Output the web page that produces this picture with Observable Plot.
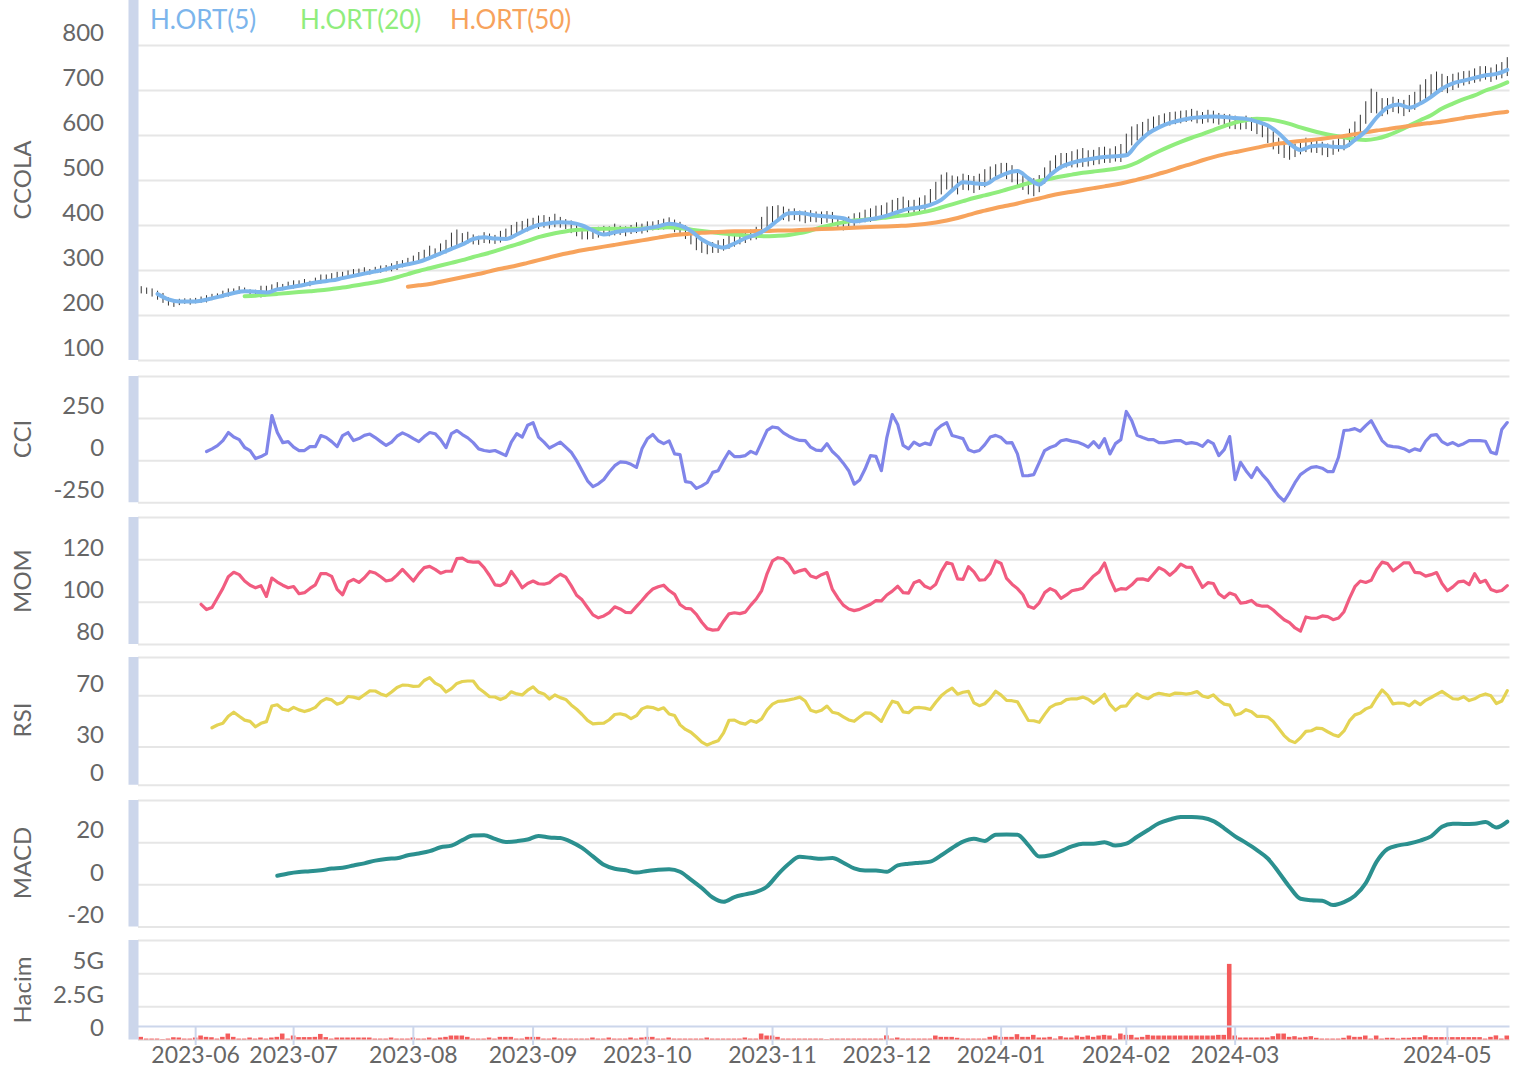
<!DOCTYPE html>
<html>
<head>
<meta charset="utf-8">
<script src="https://cdn.jsdelivr.net/npm/d3@7"></script>
<script src="https://cdn.jsdelivr.net/npm/@observablehq/plot@0.6"></script>
<style>
  html, body { margin: 0; padding: 0; background: #ffffff; }
  #chart { position: relative; width: 1514px; height: 1068px; overflow: hidden; background: #fff; font-family: Lato, "Open Sans", sans-serif; }
  #chart svg { position: absolute; left: 0; }
  .ytitle { position: absolute; left: 22px; font-size: 24px; line-height: 24px; color: #666; white-space: nowrap; transform: translate(-50%, -50%) rotate(-90deg); }
  .leg { position: absolute; top: 6px; font-size: 26px; line-height: 26px; white-space: nowrap; }
</style>
</head>
<body>
<div id="chart"></div>
<script>
// ---------------- DATA ----------------
const N = 252; // trading days (category index 0..251)
const xTickIdx = [10, 28, 50, 72, 93, 116, 137, 158, 181, 201, 240];
const xTickLabels = ["2023-06","2023-07","2023-08","2023-09","2023-10","2023-11","2023-12","2024-01","2024-02","2024-03","2024-05"];

const legendNames = ["H.ORT(5)", "H.ORT(20)", "H.ORT(50)"];
const panelTitles = ["CCOLA", "CCI", "MOM", "RSI", "MACD", "Hacim"];

// price bars: daily mid price and high-low span
const priceMid = [
 256,254,250,244,238,230,226,229,231,230,
 232,234,236,240,242,246,250,252,256,255,
 250,248,252,256,260,264,262,266,268,270,
 272,270,276,280,282,286,288,290,292,294,
 296,298,296,300,302,304,306,310,314,318,
 322,328,334,340,338,346,352,364,372,368,
 372,368,366,372,370,368,374,380,386,392,
 396,400,404,406,408,405,410,406,402,396,
 388,380,378,380,384,388,386,390,388,386,
 390,394,392,396,398,400,402,404,398,392,
 384,372,360,352,348,350,352,356,362,366,
 370,374,378,382,398,418,424,428,426,422,
 424,420,418,420,418,416,418,414,404,402,
 406,412,416,420,422,428,430,434,438,440,
 446,440,442,446,450,462,476,490,498,492,
 488,496,494,490,496,504,512,518,522,520,
 514,504,494,486,484,492,510,526,536,542,
 544,546,548,550,548,550,554,556,554,558,
 560,580,598,606,612,620,626,630,634,636,
 638,640,642,644,640,638,642,640,636,632,
 630,628,626,628,624,618,612,600,588,576,
 568,562,566,572,578,576,574,570,566,572,
 578,584,594,608,622,650,676,672,662,664,
 668,664,660,670,676,690,700,710,718,716,
 712,718,722,726,728,732,736,738,734,740,
 744,752];
const priceSpan = [
 16,14,18,20,22,18,16,14,12,14,
 12,14,16,14,12,16,18,14,16,12,
 14,16,26,18,16,18,14,16,18,14,
 16,12,14,20,16,14,16,12,14,16,
 14,16,12,14,16,14,18,20,16,18,
 20,24,22,28,20,26,30,38,36,28,
 26,22,20,24,22,20,26,24,28,30,
 26,28,24,30,28,26,30,24,22,28,
 26,24,20,22,24,20,22,26,20,22,
 20,24,22,24,20,22,24,26,28,30,
 30,30,32,28,26,24,28,26,30,28,
 26,28,24,28,40,46,36,32,30,28,
 26,24,28,26,24,28,26,30,30,28,
 26,28,24,28,30,30,28,32,36,40,
 34,30,28,30,32,36,40,44,38,36,
 40,36,34,38,36,40,36,34,32,36,
 38,34,32,36,40,38,36,34,38,36,
 32,36,40,42,36,34,38,36,32,34,
 40,46,42,36,34,32,30,28,28,30,
 28,28,26,28,28,26,28,28,26,30,
 32,30,28,30,30,32,34,36,40,36,
 38,34,30,30,32,30,28,30,30,32,
 30,36,40,44,46,50,54,48,40,36,
 34,32,36,38,40,44,48,50,46,40,
 38,36,34,32,30,32,34,30,32,34,
 36,42];

// moving averages, sampled every 2nd day (odd indices)
const ma5Start = 3;
const ma5 = [248,236,231,231,233,238,244,250,254,253,
 251,258,262,266,271,275,278,283,288,293,
 298,303,309,314,319,328,338,348,358,370,
 374,371,370,380,392,401,405,407,406,400,
 389,380,385,389,390,394,398,404,400,388,
 369,357,351,360,372,380,393,412,427,428,
 424,421,419,416,409,412,416,422,430,437,
 440,446,457,478,496,494,492,505,516,521,
 505,491,512,530,539,545,549,552,554,556,
 582,604,618,628,634,639,641,642,641,639,
 637,631,622,605,582,568,576,578,575,574,
 590,610,640,662,669,662,671,686,704,716,
 722,728,734,737,746];
const ma20Start = 19;
const ma20 = [243,244,246,248,250,252,254,256,259,262,
 266,270,274,279,285,292,299,305,311,317,
 323,330,336,343,351,358,366,374,380,385,
 389,391,392,393,393,393,393,394,395,396,
 394,391,388,385,382,380,378,377,376,377,
 379,383,389,396,402,407,411,413,415,418,
 421,424,428,433,440,447,454,461,467,473,
 480,487,494,499,504,509,513,517,520,523,
 526,531,540,553,565,576,586,595,603,612,
 621,629,634,637,636,632,626,618,611,605,
 600,596,592,590,593,600,610,622,634,645,
 660,671,681,689,700,708,718];
const ma50Start = 49;
const ma50 = [264,267,270,275,280,285,290,295,301,306,
 311,317,323,329,335,340,345,349,353,357,
 361,365,369,373,377,380,382,384,385,386,
 387,387,388,388,389,389,390,391,392,393,
 394,395,396,397,398,399,400,402,405,409,
 414,420,427,433,439,444,449,455,460,466,
 471,475,479,483,487,491,496,502,508,515,
 522,530,537,545,552,558,563,568,573,578,
 582,585,588,590,593,596,599,603,607,611,
 614,618,621,625,628,631,635,639,643,646,
 650,653];

// CCI (daily from index 12)
const cciStart = 12;
const cci = [54,70,89,119,167,140,125,78,60,12,
 24,42,268,167,107,113,80,60,60,83,
 83,149,137,113,83,149,167,119,131,150,
 158,137,113,90,110,145,165,150,131,113,
 143,167,160,125,77,161,179,155,135,107,
 70,60,55,60,45,30,110,160,140,210,
 225,140,110,75,92,110,80,50,0,-60,
 -120,-155,-138,-112,-68,-30,-8,-10,-22,-40,
 70,130,155,118,101,117,40,36,-125,-130,
 -165,-150,-130,-70,-60,0,54,24,24,30,
 55,40,110,180,200,195,165,145,130,120,
 119,80,62,60,101,54,24,-15,-60,-140,
 -115,-50,30,25,-60,137,274,215,90,70,
 110,90,104,95,180,208,226,149,140,131,
 65,52,60,95,140,150,137,105,107,40,
 -90,-89,-83,-12,60,78,90,118,125,116,
 110,98,80,113,77,131,40,101,125,292,
 238,150,137,125,125,107,107,113,119,119,
 101,107,101,85,119,101,30,65,143,-113,
 -10,-60,-101,-42,-83,-119,-167,-210,-240,-190,
 -131,-83,-60,-40,-36,-45,-65,-65,20,179,
 182,190,175,208,238,179,119,89,83,80,
 71,54,70,60,115,150,155,113,95,107,
 89,101,119,119,119,115,50,40,185,226];

// MOM (daily from index 11)
const momStart = 11;
const mom = [99,96.5,97.5,102,106.5,112,114.1,113,110,108,
 106.8,107.8,102.7,111.4,109.5,108,106.8,107.4,104,104.5,
 106.5,108.2,113.5,113.5,112.2,106,103.5,109.5,110.8,109.3,
 111.5,114.5,113.8,112,110,110.5,112.8,115.5,112.8,110,
 113.5,116.3,116.9,115.5,113.7,114.6,114.6,120.6,120.8,119.3,
 118.9,119,116.3,112.6,108.2,107.8,109.4,114.5,111,106.8,
 108.8,110,108.7,108.5,109.2,111.5,113.2,111.8,107.8,103.3,
 101.1,97.5,94,92.6,93.5,95.1,97.8,96.8,95.2,95.1,
 98,100.8,103.8,106.2,107.3,108,105.5,103.7,98.9,97.1,
 96.8,94.2,90.5,87.5,86.8,87,91,94.5,95,94.6,
 95.3,98.6,101.5,105.5,113.5,119.5,121,120.5,118,113.8,
 114.8,115.5,112.4,111.5,113,114,106,102,98.6,96.8,
 96,96.6,97.8,99,100.7,100.6,103.4,105.2,107.5,104.5,
 104.3,109.2,110.2,107.5,106.4,108.5,114.4,118.7,118,111,
 110.8,116.8,114.3,110.4,110.6,113.6,119.5,118.3,111.2,108.5,
 106.4,103.5,98.1,97.1,99.7,104.5,106.4,105.2,101.8,103.4,
 105.4,105.9,106.6,109.6,112.4,114.3,118.5,111,105.4,106.4,
 106.2,108.2,110.9,111,110.3,113.3,116.3,115,112.7,114.9,
 118,116.5,116.4,111.6,107,109.2,108.8,104,102.1,104.3,
 103.4,99.5,99.9,100.8,98.7,98.1,98.1,96.3,93.9,91.7,
 90.3,87.8,86.3,93,92.4,92.4,93.5,93.2,91.7,92.5,
 95.5,101.8,107.3,110,109.3,110.3,115.4,118.9,118.2,114.8,
 116.6,118.6,118.6,114.1,113.8,112.3,113,114,108.8,105.4,
 107.2,109.6,109.9,108.3,113.5,109.3,110.3,106,105,105.5,
 107.8];

// RSI (daily from index 13)
const rsiStart = 13;
const rsi = [45,47.2,48.5,54,57.2,54,51,50,45.8,48.5,
 49.8,62,63,59.5,58.5,61,59,57.7,59,61,
 65.5,67.8,66.8,63.5,65,69.5,69,67.8,70.9,73.9,
 73.8,71.5,70,73,76.6,78.4,78.3,77.4,77.5,82,
 84.3,80,77.8,73,75.7,79.7,81.2,81.6,81.6,76,
 72.8,69.3,69.1,67.1,68.9,73.2,71.5,70.7,74.4,77,
 72.9,71.5,67.5,70.7,68.6,67.2,62.9,59.5,55.4,50.8,
 48.1,48.5,48.6,51.3,55.4,56,54.9,52.1,54.5,59.8,
 61.4,60.8,59.1,60.6,55.8,54.6,47.3,43.7,41.5,37.8,
 33.8,31.5,33.4,34.8,41,50.9,51,48.8,47.9,50.7,
 49.3,52,59,63.5,65.7,66,66.8,67.7,69,66,
 58.7,57.3,58.7,62,57.2,56.2,53.6,51.1,50.1,53.4,
 56.6,56.5,53.5,50,58.5,65.8,64.5,57.5,56.8,60.6,
 60.9,60.4,59.3,65,70,73.5,76,71.3,72.8,73.5,
 64.5,62.3,63.8,68,73.6,70.6,66.4,66.2,65.3,58,
 50.7,50.5,49.3,55.5,61,63.3,64.2,67,67.7,67.7,
 69,67.4,64.2,67.3,71.2,63.3,58.7,61.8,62.2,67.7,
 71.6,69,67.8,70.6,72,71.1,70.4,72.2,72,71.4,
 72,73.4,69.9,68.7,70.8,66.6,63.5,62.7,55,56.2,
 59.2,57.6,54,54,53.4,50,44.5,38.9,35.1,33.4,
 37.2,42.2,42.7,44.8,44.4,41.9,39.6,38.3,42.5,50.4,
 55.1,56.5,59.8,61.5,68.5,74.6,70.5,63.7,64.4,64.2,
 62.3,65.8,63.1,66.5,68.7,71.2,73.5,70.6,67.7,67.4,
 69.3,66.3,67.7,70.1,71.5,70,64,66,74];

// MACD, every 2nd day from index 25
const macdStart = 25;
const macd = [4.3,5.4,6.1,6.4,6.9,7.7,8.1,9.2,10.2,11.5,
 12.3,12.6,14.0,14.9,16.0,17.8,18.6,21.2,23.4,23.5,
 21.8,20.3,20.7,21.5,23.2,22.5,22.2,20.4,17.5,13.5,
 9.5,7.6,6.9,5.8,6.6,7.2,7.4,6.2,2.5,-1.5,
 -6.0,-8.0,-5.8,-4.5,-3.3,-0.8,5.0,10.0,13.3,12.8,
 12.4,12.7,10.5,7.8,6.8,6.8,6.2,9.2,10.0,10.5,
 11.0,14.0,17.5,20.5,21.8,20.8,23.8,23.9,23.8,18.8,
 13.4,14.0,16.0,18.2,19.5,19.5,20.2,18.6,19.5,22.8,
 26.0,29.2,31.0,32.2,32.2,31.8,30.2,26.8,23.0,19.9,
 16.5,12.5,6.0,-1.0,-6.6,-7.3,-7.5,-9.6,-8.2,-5.2,
 0.8,11.0,17.0,18.7,19.6,21.0,23.0,27.5,29.0,28.9,
 29.0,29.8,27.2,30.0];

// Volume (billions), daily
const volume = [0.2,0.07,0.07,0.07,0.03,0.07,0.17,0.15,0.07,0.07,
 0.15,0.3,0.2,0.17,0.07,0.2,0.45,0.2,0.07,0.07,
 0.15,0.07,0.15,0.07,0.15,0.2,0.45,0.07,0.3,0.18,
 0.18,0.18,0.2,0.42,0.18,0.07,0.15,0.15,0.15,0.15,
 0.15,0.15,0.15,0.07,0.07,0.07,0.15,0.07,0.07,0.07,
 0.15,0.07,0.07,0.15,0.07,0.15,0.2,0.3,0.3,0.3,
 0.2,0.07,0.07,0.07,0.15,0.07,0.2,0.2,0.2,0.07,
 0.07,0.2,0.2,0.2,0.07,0.07,0.15,0.07,0.07,0.07,
 0.07,0.07,0.07,0.15,0.07,0.07,0.15,0.07,0.07,0.07,
 0.15,0.07,0.15,0.2,0.2,0.07,0.07,0.15,0.07,0.07,
 0.07,0.07,0.07,0.07,0.15,0.07,0.07,0.07,0.07,0.07,
 0.07,0.15,0.07,0.07,0.45,0.3,0.3,0.2,0.07,0.07,
 0.07,0.07,0.07,0.07,0.07,0.07,0.03,0.07,0.07,0.07,
 0.07,0.07,0.07,0.07,0.07,0.07,0.07,0.31,0.07,0.15,
 0.07,0.07,0.07,0.07,0.07,0.07,0.3,0.2,0.2,0.2,
 0.13,0.07,0.07,0.07,0.07,0.07,0.2,0.3,0.2,0.2,
 0.2,0.4,0.2,0.2,0.35,0.15,0.15,0.2,0.07,0.25,
 0.15,0.15,0.3,0.2,0.3,0.2,0.3,0.35,0.3,0.07,
 0.45,0.35,0.35,0.15,0.2,0.35,0.3,0.3,0.3,0.3,
 0.3,0.3,0.3,0.3,0.3,0.3,0.3,0.3,0.35,0.35,
 5.7,0.3,0.15,0.15,0.15,0.15,0.15,0.15,0.25,0.45,
 0.45,0.2,0.25,0.15,0.2,0.25,0.13,0.07,0.07,0.07,
 0.07,0.13,0.3,0.2,0.2,0.3,0.07,0.3,0.07,0.13,
 0.13,0.07,0.13,0.13,0.18,0.18,0.31,0.18,0.18,0.18,
 0.18,0.18,0.18,0.18,0.18,0.18,0.18,0.07,0.2,0.31,
 0.07,0.3];

const priceTicks = [100, 200, 300, 400, 500, 600, 700, 800];
const cciTicks = [-250, 0, 250];
const momTicks = [80, 100, 120];
const rsiTicks = [0, 30, 70];
const macdTicks = [-20, 0, 20];
const volTicks = [0, 2.5, 5];
const volTickLabels = ["0", "2.5G", "5G"];

// ---------------- DRAWING ----------------
const chart = document.getElementById("chart");
const FONT = 'Lato, "Open Sans", sans-serif';
const GRID = "#e6e6e6", AXIS = "#ccd6eb", TXT = "#666666";
const C = {ma5: "#7cb5ec", ma20: "#90ed7d", ma50: "#f7a35c", cci: "#8085e9", mom: "#f15c80", rsi: "#e4d354", macd: "#2b908f", vol: "#f45b5b"};

const series = (start, step, vals) => vals.map((v, k) => ({i: start + k * step, v}));
const bars = priceMid.map((m, i) => ({i, lo: m - priceSpan[i] / 2, hi: m + priceSpan[i] / 2}));
const vol = volume.map((v, i) => ({i, v}));

function panel(p, marks, extra = {}) {
  const mt = 20, mb = extra.mb ?? 20;
  const svg = Plot.plot({
    width: 1514,
    height: p.bottom - p.top + mt + mb,
    marginLeft: 138, marginRight: 4.5, marginTop: mt, marginBottom: mb,
    style: {background: "transparent", overflow: "visible", fontFamily: FONT, fontSize: "24px", color: TXT},
    x: extra.xAxis ? {domain: [-0.5, N - 0.5], label: null} : {domain: [-0.5, N - 0.5], axis: null, label: null},
    y: {domain: p.domain, label: null},
    marks: [
      Plot.gridY({ticks: p.grid, stroke: GRID, strokeOpacity: 1, strokeWidth: 2}),
      ...marks,
      Plot.ruleX([-0.5], {stroke: AXIS, strokeWidth: 10, dx: -5}),
      Plot.axisY({ticks: p.ticks, tickSize: 0, tickPadding: 34.5, dy: -12, fontSize: 24,
                  tickFormat: p.fmt ?? (d => String(d)), label: null})
    ]
  });
  svg.style.top = (p.top - mt) + "px";
  chart.appendChild(svg);
  const t = document.createElement("div");
  t.className = "ytitle";
  t.textContent = p.title;
  t.style.top = ((p.top + p.bottom) / 2) + "px";
  chart.appendChild(t);
}

// 1. Price
panel({top: 0, bottom: 360, domain: [100, 900], grid: priceTicks, ticks: priceTicks, title: panelTitles[0]}, [
  Plot.ruleX(bars, {x: "i", y1: "lo", y2: "hi", stroke: "#333333", strokeWidth: 1}),
  Plot.line(series(ma20Start, 2, ma20), {x: "i", y: "v", stroke: C.ma20, strokeWidth: 4, curve: "monotone-x"}),
  Plot.line(series(ma50Start, 2, ma50), {x: "i", y: "v", stroke: C.ma50, strokeWidth: 4, curve: "monotone-x"}),
  Plot.line(series(ma5Start, 2, ma5), {x: "i", y: "v", stroke: C.ma5, strokeWidth: 4, curve: "monotone-x"})
]);

// 2. CCI
panel({top: 375.5, bottom: 501.7, domain: [-250, 500], grid: [-250, 0, 250, 500], ticks: cciTicks, title: panelTitles[1]}, [
  Plot.line(series(cciStart, 1, cci), {x: "i", y: "v", stroke: C.cci, strokeWidth: 3.2, strokeLinejoin: "round"})
]);

// 3. MOM
panel({top: 517, bottom: 644, domain: [80, 140], grid: [80, 100, 120, 140], ticks: momTicks, title: panelTitles[2]}, [
  Plot.line(series(momStart, 1, mom), {x: "i", y: "v", stroke: C.mom, strokeWidth: 3.2, strokeLinejoin: "round"})
]);

// 4. RSI
panel({top: 656.5, bottom: 784.3, domain: [0, 100], grid: [0, 30, 70, 100], ticks: rsiTicks, title: panelTitles[3]}, [
  Plot.line(series(rsiStart, 1, rsi), {x: "i", y: "v", stroke: C.rsi, strokeWidth: 3.2, strokeLinejoin: "round"})
]);

// 5. MACD
panel({top: 799.5, bottom: 926, domain: [-20, 40], grid: [-20, 0, 20, 40], ticks: macdTicks, title: panelTitles[4]}, [
  Plot.line(series(macdStart, 2, macd), {x: "i", y: "v", stroke: C.macd, strokeWidth: 4, curve: "monotone-x"})
]);

// 6. Volume + x axis
panel({top: 940, bottom: 1039.5, domain: [0, 7.5], grid: [0, 2.5, 5, 7.5], ticks: volTicks,
       fmt: d => volTickLabels[volTicks.indexOf(d)], title: panelTitles[5]}, [
  Plot.rectY(vol, {x1: d => d.i - 0.42, x2: d => d.i + 0.42, y: "v", fill: C.vol}),
  Plot.ruleY([0], {stroke: AXIS, strokeWidth: 2, dy: -13.5}),
  Plot.axisX({ticks: xTickIdx, tickFormat: () => "", tickSize: 19, dy: -13.5, stroke: AXIS, strokeWidth: 2, label: null}),
  Plot.axisX({ticks: xTickIdx, tickFormat: d => xTickLabels[xTickIdx.indexOf(d)], tickSize: 0, tickPadding: 7, fontSize: 23, label: null})
], {mb: 40, xAxis: true});

// Legend (colored series names)
const legColors = [C.ma5, C.ma20, C.ma50];
const legLeft = [150, 300, 450];
legendNames.forEach((name, k) => {
  const s = document.createElement("div");
  s.className = "leg";
  s.textContent = name;
  s.style.left = legLeft[k] + "px";
  s.style.color = legColors[k];
  chart.appendChild(s);
});
</script>
</body>
</html>
